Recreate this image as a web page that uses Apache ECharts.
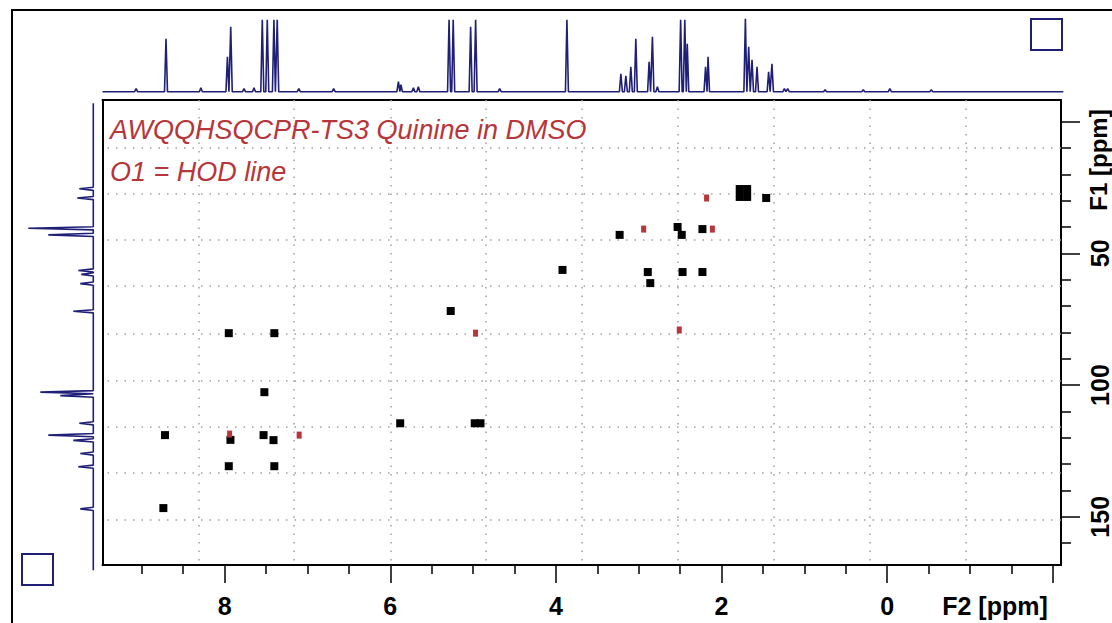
<!DOCTYPE html>
<html>
<head>
<meta charset="utf-8">
<script src="https://cdn.jsdelivr.net/npm/echarts@6/dist/echarts.min.js"></script>
<style>
  html, body { margin: 0; padding: 0; background: #ffffff; }
  #chart { width: 1112px; height: 623px; }
</style>
</head>
<body>
<div id="chart"></div>
<script>
// ---------- data ----------
const titleLine1 = 'AWQQHSQCPR-TS3 Quinine in DMSO';
const titleLine2 = 'O1 = HOD line';
const f2Name = 'F2 [ppm]';
const f1Name = 'F1 [ppm]';

// F2 (1H) axis ticks, ppm
const f2MinorTicks = [9, 8.5, 7.5, 7, 6.5, 5.5, 5, 4.5, 3.5, 3, 2.5, 1.5, 1, 0.5, -0.5, -1, -1.5];
const f2MajorTicks = [8, 6, 4, 2, 0, -2];
const f2TickLabels = [8, 6, 4, 2, 0];
// F1 (13C) axis ticks, ppm
const f1MinorTicks = [10, 20, 30, 40, 60, 70, 80, 90, 110, 120, 130, 140, 160];
const f1MajorTicks = [0, 50, 100, 150];
const f1TickLabels = [50, 100, 150];

// dotted grid positions (ppm)
const gridF2 = [8.31, 7.16, 6.00, 4.85, 3.69, 2.53, 1.37, 0.21, -0.95];
const gridF1 = [10.0, 27.5, 45.0, 62.4, 80.4, 98.5, 115.9, 133.3, 151.0];

// HSQC cross peaks [F2 ppm, F1 ppm]
const crossPeaksPositive = [
  [1.78, 25.6], [1.69, 25.6], [1.78, 28.6], [1.69, 28.6], [1.46, 29.0],
  [3.23, 43.0], [2.53, 40.0], [2.48, 43.0], [2.23, 40.8],
  [3.92, 56.3], [2.89, 57.1], [2.47, 57.1], [2.23, 57.1], [2.86, 61.3],
  [5.27, 71.9], [7.95, 80.3], [7.40, 80.3], [7.52, 102.7],
  [5.88, 114.5], [4.98, 114.5], [4.91, 114.5],
  [8.72, 119.0], [7.93, 120.8], [7.53, 119.0], [7.41, 120.9],
  [7.95, 130.8], [7.40, 130.8], [8.74, 146.7]
];
const crossPeaksNegative = [
  [2.18, 29.0], [2.94, 40.8], [2.11, 40.8], [4.97, 80.3], [2.51, 79.1],
  [7.94, 118.6], [7.10, 119.0]
];

// 1D 1H spectrum (top): [ppm, intensity]
const protonPeaks = [
  [9.07, 3], [8.71, 53], [8.29, 4], [7.97, 35], [7.93, 65], [7.77, 3], [7.65, 4],
  [7.55, 72], [7.49, 72], [7.41, 72], [7.37, 72], [7.11, 3], [6.69, 3],
  [5.91, 10], [5.88, 7], [5.73, 4], [5.67, 5], [5.30, 72], [5.25, 72], [5.04, 65], [4.98, 72], [4.69, 3],
  [3.88, 72], [3.23, 18], [3.17, 16], [3.11, 25], [3.05, 53], [2.89, 30], [2.85, 55], [2.79, 5],
  [2.51, 72], [2.46, 72], [2.43, 48], [2.21, 25], [2.18, 35],
  [1.73, 73], [1.69, 45], [1.65, 32], [1.59, 25], [1.45, 20], [1.41, 28], [1.26, 3], [1.22, 3],
  [0.77, 2], [0.31, 2], [-0.01, 3], [-0.51, 2]
];
const protonRange = [9.475, -2.1];

// 1D 13C spectrum (left): [ppm, intensity]
const carbonPeaks = [
  [25.5, 14], [29.0, 16], [40.5, 65], [43.0, 45], [56.5, 15], [58.0, 12], [61.5, 13], [72.0, 20],
  [102.7, 53], [104.0, 33], [114.5, 14], [119.0, 45], [121.0, 20], [126.0, 13], [131.0, 15], [147.0, 13]
];
const carbonRange = [-7.0, 170.3];

// ---------- helpers (build line vertices from the peak lists) ----------
const STICK_H = 0.018;   // half width of a 1H line in ppm
const STICK_C = 0.6;     // half width of a 13C line in ppm
function protonLine() {
  const pts = [[protonRange[0], 0]];
  protonPeaks.slice().sort((a, b) => b[0] - a[0]).forEach(p => {
    pts.push([p[0] + STICK_H, 0], [p[0], p[1]], [p[0] - STICK_H, 0]);
  });
  pts.push([protonRange[1], 0]);
  return pts;
}
function carbonLine() {
  const pts = [[0, carbonRange[0]]];
  carbonPeaks.slice().sort((a, b) => a[0] - b[0]).forEach(p => {
    pts.push([0, p[0] - STICK_C], [p[1], p[0]], [0, p[0] + STICK_C]);
  });
  pts.push([0, carbonRange[1]]);
  return pts;
}

// ---------- layout constants ----------
const F2_MIN = -2.1, F2_MAX = 9.475;
const F1_MIN = -8.2, F1_MAX = 168.3;
const NAVY = '#1f1f78';
const RED = '#b8353a';
const TICK_FONT = { color: '#000', fontWeight: 'bold', fontSize: 25, fontFamily: 'Liberation Sans, Arial, sans-serif' };
const TITLE_FONT = { color: RED, fontStyle: 'italic', fontWeight: 'normal', fontSize: 27, fontFamily: 'Liberation Sans, Arial, sans-serif' };

const chart = echarts.init(document.getElementById('chart'), null, { renderer: 'svg' });

const option = {
  backgroundColor: '#ffffff',
  animation: false,
  title: [
    { text: titleLine1, left: 110, top: 116, padding: 0, textStyle: TITLE_FONT },
    { text: titleLine2, left: 110, top: 158, padding: 0, textStyle: TITLE_FONT }
  ],
  grid: [
    { left: 102.5, right: 48.7, top: 100, bottom: 58 },          // 2D map
    { left: 102.5, right: 48.7, top: 11.7, height: 80 },          // top 1H trace
    { left: 23.3, width: 70, top: 100, bottom: 58 }               // left 13C trace
  ],
  xAxis: [
    { gridIndex: 0, type: 'value', min: F2_MIN, max: F2_MAX, inverse: true, position: 'bottom',
      axisLine: { show: true, onZero: false, lineStyle: { color: '#000', width: 2 } },
      axisTick: { show: true, customValues: f2MinorTicks, length: 9, lineStyle: { color: '#000', width: 1.5 } },
      axisLabel: { show: false }, splitLine: { show: false } },
    { gridIndex: 0, type: 'value', min: F2_MIN, max: F2_MAX, inverse: true, position: 'bottom',
      axisLine: { show: false, onZero: false },
      axisTick: { show: true, customValues: f2MajorTicks, length: 18, lineStyle: { color: '#000', width: 1.5 } },
      axisLabel: Object.assign({ show: true, customValues: f2TickLabels, margin: 28 }, TICK_FONT),
      splitLine: { show: false } },
    { gridIndex: 0, type: 'value', min: F2_MIN, max: F2_MAX, inverse: true, position: 'top',
      axisLine: { show: true, onZero: false, lineStyle: { color: '#000', width: 2 } },
      axisTick: { show: false }, axisLabel: { show: false }, splitLine: { show: false } },
    { gridIndex: 1, type: 'value', min: F2_MIN, max: F2_MAX, inverse: true, show: false },
    { gridIndex: 2, type: 'value', min: 0, max: 70, inverse: true, show: false }
  ],
  yAxis: [
    { gridIndex: 0, type: 'value', min: F1_MIN, max: F1_MAX, inverse: true, position: 'right',
      axisLine: { show: true, onZero: false, lineStyle: { color: '#000', width: 2 } },
      axisTick: { show: true, customValues: f1MinorTicks, length: 10, lineStyle: { color: '#000', width: 1.5 } },
      axisLabel: { show: false }, splitLine: { show: false } },
    { gridIndex: 0, type: 'value', min: F1_MIN, max: F1_MAX, inverse: true, position: 'right',
      axisLine: { show: false, onZero: false },
      axisTick: { show: true, customValues: f1MajorTicks, length: 19, lineStyle: { color: '#000', width: 1.5 } },
      axisLabel: Object.assign({ show: true, customValues: f1TickLabels, rotate: 90, margin: 26 }, TICK_FONT),
      splitLine: { show: false } },
    { gridIndex: 0, type: 'value', min: F1_MIN, max: F1_MAX, inverse: true, position: 'left',
      axisLine: { show: true, onZero: false, lineStyle: { color: '#000', width: 2 } },
      axisTick: { show: false }, axisLabel: { show: false }, splitLine: { show: false } },
    { gridIndex: 1, type: 'value', min: 0, max: 80, show: false },
    { gridIndex: 2, type: 'value', min: F1_MIN, max: F1_MAX, inverse: true, show: false }
  ],
  series: [
    { // dotted grid of the 2D map
      type: 'line', xAxisIndex: 0, yAxisIndex: 0, data: [], z: 1, silent: true,
      markLine: {
        silent: true, symbol: ['none', 'none'], label: { show: false },
        lineStyle: { color: '#a0a0a0', width: 1.5, type: [1.5, 7] },
        data: gridF2.map(v => ({ xAxis: v })).concat(gridF1.map(v => ({ yAxis: v })))
      }
    },
    { name: 'positive', type: 'scatter', xAxisIndex: 0, yAxisIndex: 0, z: 5,
      symbol: 'rect', symbolSize: [8, 8], itemStyle: { color: '#000', opacity: 1 }, data: crossPeaksPositive },
    { name: 'negative', type: 'scatter', xAxisIndex: 0, yAxisIndex: 0, z: 6,
      symbol: 'rect', symbolSize: [5, 7], itemStyle: { color: RED, opacity: 1 }, data: crossPeaksNegative },
    { name: '1H', type: 'line', xAxisIndex: 3, yAxisIndex: 3, data: protonLine(), clip: false,
      showSymbol: false, symbol: 'none', lineStyle: { color: NAVY, width: 1.6 } },
    { name: '13C', type: 'line', xAxisIndex: 4, yAxisIndex: 4, data: carbonLine(), clip: false,
      showSymbol: false, symbol: 'none', lineStyle: { color: NAVY, width: 1.6 } }
  ],
  graphic: [
    { type: 'rect', silent: true, shape: { x: 12, y: 10, width: 1200, height: 700 },
      style: { fill: 'none', stroke: '#000', lineWidth: 2 } },
    { type: 'rect', silent: true, shape: { x: 1031, y: 19, width: 31, height: 31 },
      style: { fill: 'none', stroke: NAVY, lineWidth: 2 } },
    { type: 'rect', silent: true, shape: { x: 22, y: 554, width: 31, height: 31 },
      style: { fill: 'none', stroke: NAVY, lineWidth: 2 } },
    { type: 'text', silent: true, x: 995, y: 606,
      style: { text: f2Name, x: 0, y: 0, align: 'center', verticalAlign: 'middle',
               fill: '#000', font: 'bold 25px "Liberation Sans", Arial, sans-serif' } },
    { type: 'text', silent: true, x: 1098, y: 160, rotation: Math.PI / 2,
      style: { text: f1Name, x: 0, y: 0, align: 'center', verticalAlign: 'middle',
               fill: '#000', font: 'bold 24px "Liberation Sans", Arial, sans-serif' } }
  ]
};
chart.setOption(option);
</script>
</body>
</html>
